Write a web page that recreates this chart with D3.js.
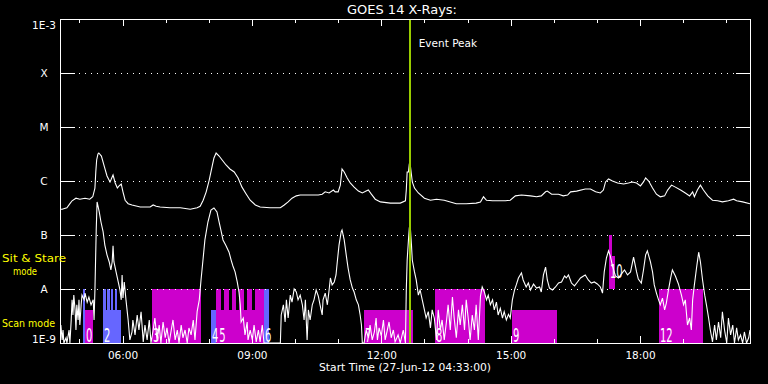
<!DOCTYPE html>
<html><head><meta charset="utf-8">
<script src="https://cdn.jsdelivr.net/npm/d3@7/dist/d3.min.js"></script>
<style>html,body{margin:0;padding:0;background:#000;} svg{display:block;} text{-webkit-font-smoothing:antialiased;}</style>
</head><body>
<svg id="chart" width="768" height="384"></svg>
<script>
// ---------------- data ----------------
const chartTitle = "GOES 14 X-Rays:";
const xTitle = "Start Time (27-Jun-12 04:33:00)";
const eventLabel = "Event Peak";
const timeRange = [4.55, 20.55];           // hours of 27-Jun-12
const fluxRange = [1e-9, 1e-3];            // W m^-2
const levelValues = [1e-3, 1e-4, 1e-5, 1e-6, 1e-7, 1e-8, 1e-9];
const levelLabels = ["1E-3", "X", "M", "C", "B", "A", "1E-9"];
const gridLevels = [1e-4, 1e-5, 1e-6, 1e-7, 1e-8];
const majorHours = [6, 9, 12, 15, 18];
const minorHours = [5, 7, 8, 10, 11, 13, 14, 16, 17, 19, 20];
const eventPeak = 12.66;
const modeLabels = ["Sit & Stare", "mode", "Scan mode"];

// 1-8 A channel  [hour, flux]
const longChannel = [
 [4.55,3.0e-7],[4.60,3.0e-7],[4.71,3.2e-7],[4.78,3.8e-7],[4.83,4.3e-7],[4.92,4.8e-7],[5.01,4.6e-7],
 [5.13,4.8e-7],[5.24,4.6e-7],[5.31,5.1e-7],[5.36,7.4e-7],[5.38,1.47e-6],[5.40,2.45e-6],[5.43,3.16e-6],
 [5.45,3.3e-6],[5.51,2.9e-6],[5.58,1.82e-6],[5.64,1.24e-6],[5.71,9.6e-7],[5.73,1.04e-6],[5.78,1.29e-6],
 [5.83,9.2e-7],[5.88,7.4e-7],[5.92,8.1e-7],[5.97,8.8e-7],[6.01,6.3e-7],[6.06,4.4e-7],[6.13,3.8e-7],
 [6.22,3.6e-7],[6.41,3.3e-7],[6.64,3.3e-7],[6.71,3.6e-7],[6.78,3.4e-7],[6.87,3.3e-7],[7.10,3.2e-7],
 [7.34,3.2e-7],[7.57,3.0e-7],[7.73,3.2e-7],[7.80,3.4e-7],[7.87,4.4e-7],[7.94,6.3e-7],[8.01,1.04e-6],
 [8.08,1.9e-6],[8.12,2.67e-6],[8.17,3.3e-6],[8.24,2.9e-6],[8.31,2.45e-6],[8.40,1.98e-6],[8.49,1.67e-6],
 [8.59,1.47e-6],[8.68,1.14e-6],[8.77,7.7e-7],[8.87,5.7e-7],[8.96,4.4e-7],[9.08,3.6e-7],[9.19,3.3e-7],
 [9.42,3.2e-7],[9.66,3.2e-7],[9.75,3.6e-7],[9.84,4.1e-7],[9.93,4.8e-7],[10.03,5.3e-7],[10.12,5.5e-7],
 [10.35,5.5e-7],[10.54,5.5e-7],[10.63,5.7e-7],[10.70,6.3e-7],[10.79,6.0e-7],[10.89,6.8e-7],[10.93,6.3e-7],
 [11.00,6.3e-7],[11.05,8.4e-7],[11.09,1.67e-6],[11.14,1.47e-6],[11.21,1.14e-6],[11.28,9.2e-7],[11.37,7.7e-7],
 [11.47,6.5e-7],[11.56,6.0e-7],[11.65,6.5e-7],[11.70,6.8e-7],[11.77,5.7e-7],[11.86,4.6e-7],[11.98,4.1e-7],
 [12.21,3.9e-7],[12.44,3.9e-7],[12.56,4.3e-7],[12.58,6.8e-7],[12.60,1.47e-6],[12.63,1.47e-6],[12.65,2.06e-6],
 [12.67,2.06e-6],[12.70,1.29e-6],[12.72,9.6e-7],[12.77,7.4e-7],[12.86,6.0e-7],[13.00,4.8e-7],[13.14,4.4e-7],
 [13.28,4.6e-7],[13.46,4.4e-7],[13.60,4.1e-7],[13.74,3.8e-7],[13.97,3.8e-7],[14.20,3.9e-7],[14.30,4.1e-7],
 [14.37,5.1e-7],[14.44,4.4e-7],[14.58,4.3e-7],[14.88,4.3e-7],[14.99,4.4e-7],[15.11,5.3e-7],[15.25,5.5e-7],
 [15.46,5.3e-7],[15.60,5.1e-7],[15.71,5.3e-7],[15.81,6.3e-7],[15.85,6.5e-7],[15.95,5.7e-7],[16.11,5.7e-7],
 [16.22,5.3e-7],[16.32,5.5e-7],[16.39,6.3e-7],[16.53,6.5e-7],[16.73,7.1e-7],[16.85,7.1e-7],[16.97,6.3e-7],
 [17.08,6.0e-7],[17.15,6.8e-7],[17.20,9.6e-7],[17.27,1.09e-6],[17.36,1.0e-6],[17.48,9.2e-7],[17.62,8.8e-7],
 [17.73,9.2e-7],[17.82,9.6e-7],[17.92,9.2e-7],[18.01,8.1e-7],[18.08,9.6e-7],[18.13,1.14e-6],[18.20,1.0e-6],
 [18.29,7.4e-7],[18.38,5.7e-7],[18.47,5.1e-7],[18.57,5.3e-7],[18.64,6.8e-7],[18.73,8.4e-7],[18.82,7.7e-7],
 [18.94,6.8e-7],[19.05,6.0e-7],[19.15,5.3e-7],[19.22,6.3e-7],[19.26,5.1e-7],[19.33,6.8e-7],[19.40,8.4e-7],
 [19.47,6.8e-7],[19.57,5.3e-7],[19.68,4.4e-7],[19.80,4.3e-7],[19.91,4.1e-7],[20.05,4.3e-7],[20.17,4.6e-7],
 [20.24,4.3e-7],[20.38,4.1e-7],[20.55,3.8e-7]
];

// 0.5-4 A channel  [hour, flux]
const shortChannel = [
 [4.55,1.41e-9],[4.57,2.15e-9],[4.60,1.14e-9],[4.62,1.74e-9],[4.64,1.0e-9],[4.69,1.25e-9],[4.71,1.0e-9],
 [4.76,1.74e-9],[4.78,1.0e-9],[4.81,2.67e-9],[4.83,6.3e-9],[4.85,3.3e-9],[4.87,7.7e-9],[4.90,4.1e-9],
 [4.92,1.74e-9],[4.94,5.1e-9],[4.97,2.67e-9],[4.99,6.3e-9],[5.01,2.15e-9],[5.04,5.1e-9],[5.06,7.7e-9],
 [5.11,6.3e-9],[5.13,8.4e-9],[5.18,5.7e-9],[5.22,7.1e-9],[5.27,5.1e-9],[5.32,6.3e-9],[5.34,2.67e-9],
 [5.36,9.6e-9],[5.39,1.24e-7],[5.41,4.1e-7],[5.46,2.67e-7],[5.50,1.74e-7],[5.55,1.14e-7],[5.59,6.5e-8],
 [5.64,4.3e-8],[5.69,3.2e-8],[5.73,2.25e-8],[5.76,3.2e-8],[5.78,6.3e-8],[5.80,3.2e-8],[5.85,2.07e-8],
 [5.90,1.35e-8],[5.94,9.6e-9],[5.97,6.3e-9],[5.99,1.82e-8],[6.01,6.8e-9],[6.04,1.35e-8],[6.08,6.3e-9],
 [6.13,2.67e-9],[6.17,1.14e-9],[6.22,1.6e-9],[6.24,2.67e-9],[6.29,1.41e-9],[6.34,3.3e-9],[6.38,1.74e-9],
 [6.43,3.8e-9],[6.48,1.05e-9],[6.52,2.15e-9],[6.57,1.14e-9],[6.62,2.67e-9],[6.66,1.0e-9],[6.71,1.74e-9],
 [6.75,2.9e-9],[6.80,1.14e-9],[6.85,2.15e-9],[6.89,1.0e-9],[6.94,2.45e-9],[6.99,1.25e-9],[7.03,1.9e-9],
 [7.08,1.0e-9],[7.13,1.74e-9],[7.17,2.67e-9],[7.22,1.14e-9],[7.27,1.74e-9],[7.31,1.0e-9],[7.36,2.15e-9],
 [7.40,1.25e-9],[7.45,1.74e-9],[7.50,1.0e-9],[7.54,1.9e-9],[7.59,1.41e-9],[7.64,2.67e-9],[7.68,1.14e-9],
 [7.73,3.8e-9],[7.78,6.3e-9],[7.82,1.47e-8],[7.87,3.75e-8],[7.91,8.1e-8],[7.98,1.74e-7],[8.05,2.9e-7],
 [8.12,3.16e-7],[8.19,2.67e-7],[8.24,1.74e-7],[8.29,1.14e-7],[8.33,8.1e-8],[8.40,6.3e-8],[8.47,4.8e-8],
 [8.52,3.4e-8],[8.56,2.67e-8],[8.61,2.07e-8],[8.66,1.35e-8],[8.70,8.8e-9],[8.73,5.1e-9],[8.75,2.45e-9],
 [8.80,2.9e-9],[8.84,1.41e-9],[8.89,2.45e-9],[8.91,1.14e-9],[8.96,1.74e-9],[9.01,1.14e-9],[9.05,2.15e-9],
 [9.10,1.05e-9],[9.15,1.74e-9],[9.19,1.05e-9],[9.24,2.15e-9],[9.28,1.0e-9],[9.66,1.0e-9],[9.68,3.3e-9],
 [9.73,5.1e-9],[9.77,2.45e-9],[9.80,6.3e-9],[9.84,2.9e-9],[9.89,7.7e-9],[9.93,5.7e-9],[9.98,1.0e-8],
 [10.03,8.8e-9],[10.07,6.3e-9],[10.12,7.7e-9],[10.17,5.1e-9],[10.21,2.67e-9],[10.24,6.3e-9],[10.28,1.14e-9],
 [10.31,4.1e-9],[10.35,2.67e-9],[10.40,5.1e-9],[10.44,6.3e-9],[10.49,9.6e-9],[10.54,7.4e-9],[10.58,5.1e-9],
 [10.63,3.3e-9],[10.65,6.3e-9],[10.70,8.4e-9],[10.75,5.1e-9],[10.79,9.6e-9],[10.82,1.6e-8],[10.86,1.19e-8],
 [10.91,1.35e-8],[10.95,1.82e-8],[10.98,3.2e-8],[11.02,6.5e-8],[11.07,1.14e-7],[11.09,1.24e-7],[11.14,8.1e-8],
 [11.19,4.1e-8],[11.23,2.45e-8],[11.28,1.47e-8],[11.33,1.04e-8],[11.37,8.8e-9],[11.42,6.3e-9],[11.47,5.1e-9],
 [11.51,3.3e-9],[11.54,2.15e-9],[11.56,1.0e-9],[11.60,1.0e-9],[11.65,1.74e-9],[11.70,1.25e-9],[11.74,2.15e-9],
 [11.79,1.14e-9],[11.84,1.6e-9],[11.88,2.9e-9],[11.91,1.14e-9],[11.95,1.9e-9],[12.00,1.35e-9],[12.05,2.67e-9],
 [12.09,1.14e-9],[12.14,1.74e-9],[12.18,2.45e-9],[12.23,1.25e-9],[12.28,1.74e-9],[12.32,1.05e-9],[12.39,1.41e-9],
 [12.44,1.0e-9],[12.51,1.74e-9],[12.56,1.0e-9],[12.58,9.6e-9],[12.60,3.4e-8],[12.63,8.1e-8],[12.65,1.35e-7],
 [12.67,1.53e-7],[12.70,6.5e-8],[12.72,3.4e-8],[12.74,2.78e-8],[12.77,2.07e-8],[12.81,1.47e-8],[12.86,7.7e-9],
 [12.90,9.6e-9],[12.95,6.3e-9],[13.00,4.1e-9],[13.04,2.9e-9],[13.09,3.8e-9],[13.14,1.9e-9],[13.18,4.1e-9],
 [13.23,2.9e-9],[13.28,1.14e-9],[13.32,4.1e-9],[13.37,1.74e-9],[13.41,2.67e-9],[13.46,1.14e-9],[13.51,2.45e-9],
 [13.55,5.1e-9],[13.60,1.74e-9],[13.65,7.1e-9],[13.69,2.9e-9],[13.74,1.25e-9],[13.79,4.1e-9],[13.83,2.15e-9],
 [13.88,5.1e-9],[13.93,1.74e-9],[13.97,6.3e-9],[14.02,2.67e-9],[14.06,1.14e-9],[14.11,3.3e-9],[14.16,1.74e-9],
 [14.20,5.1e-9],[14.25,1.14e-9],[14.30,7.4e-9],[14.34,1.09e-8],[14.39,8.8e-9],[14.44,6.3e-9],[14.48,7.7e-9],
 [14.53,5.1e-9],[14.58,6.3e-9],[14.62,4.1e-9],[14.67,5.7e-9],[14.71,3.3e-9],[14.76,4.4e-9],[14.81,2.9e-9],
 [14.85,3.8e-9],[14.90,2.67e-9],[14.95,3.4e-9],[14.99,2.9e-9],[15.04,6.3e-9],[15.09,9.6e-9],[15.13,1.19e-8],
 [15.18,1.6e-8],[15.25,1.98e-8],[15.29,1.47e-8],[15.36,1.09e-8],[15.41,1.29e-8],[15.46,9.6e-9],[15.53,1.24e-8],
 [15.60,1.04e-8],[15.67,1.09e-8],[15.71,8.8e-9],[15.76,1.82e-8],[15.81,2.55e-8],[15.85,1.47e-8],[15.90,1.04e-8],
 [15.97,9.6e-9],[16.04,1.09e-8],[16.11,1.29e-8],[16.18,1.35e-8],[16.25,1.74e-8],[16.29,1.6e-8],[16.34,1.82e-8],
 [16.41,1.29e-8],[16.48,1.14e-8],[16.55,1.35e-8],[16.62,1.6e-8],[16.69,1.74e-8],[16.73,1.82e-8],[16.80,1.47e-8],
 [16.87,1.29e-8],[16.94,1.35e-8],[17.01,1.24e-8],[17.08,1.09e-8],[17.13,8.4e-9],[17.17,2.07e-8],[17.22,3.75e-8],
 [17.27,5.1e-8],[17.31,4.1e-8],[17.36,2.67e-8],[17.43,1.74e-8],[17.50,1.6e-8],[17.57,1.9e-8],[17.64,2.25e-8],
 [17.71,1.82e-8],[17.78,2.07e-8],[17.85,3.9e-8],[17.92,2.07e-8],[17.96,1.53e-8],[18.03,1.29e-8],[18.08,2.25e-8],
 [18.13,4.3e-8],[18.17,5.1e-8],[18.24,3.2e-8],[18.29,2.07e-8],[18.33,1.19e-8],[18.38,8.4e-9],[18.43,6.3e-9],
 [18.47,5.1e-9],[18.52,6.8e-9],[18.57,4.1e-9],[18.61,5.5e-9],[18.66,9.6e-9],[18.71,1.6e-8],[18.75,2.25e-8],
 [18.82,1.74e-8],[18.89,1.24e-8],[18.96,7.7e-9],[19.01,5.1e-9],[19.05,6.3e-9],[19.10,2.15e-9],[19.15,2.9e-9],
 [19.19,1.74e-9],[19.22,6.3e-9],[19.26,1.19e-8],[19.31,2.45e-8],[19.36,4.8e-8],[19.40,3.2e-8],[19.45,1.47e-8],
 [19.50,7.7e-9],[19.54,5.1e-9],[19.59,2.9e-9],[19.63,1.74e-9],[19.68,1.05e-9],[19.73,2.15e-9],[19.77,1.14e-9],
 [19.82,2.45e-9],[19.87,1.25e-9],[19.91,3.8e-9],[19.96,1.74e-9],[20.01,1.0e-9],[20.05,2.9e-9],[20.10,1.41e-9],
 [20.15,2.15e-9],[20.19,1.0e-9],[20.24,1.9e-9],[20.28,1.14e-9],[20.33,1.41e-9],[20.38,1.0e-9],[20.42,1.6e-9],
 [20.47,1.0e-9],[20.52,1.25e-9],[20.55,1.74e-9]
];

// observation intervals: [startHour, endHour, lowFlux, highFlux, kind, label]
const obsBars = [
 [5.08, 5.14, 1e-9, 1e-8, "b", ""],
 [5.14, 5.32, 1e-9, 4e-9, "m", "0"],
 [5.55, 5.97, 1e-9, 4e-9, "b", "2"],
 [5.55, 5.61, 4e-9, 1e-8, "b", ""],
 [5.64, 5.70, 4e-9, 1e-8, "b", ""],
 [5.73, 5.79, 4e-9, 1e-8, "b", ""],
 [5.83, 5.88, 4e-9, 1e-8, "b", ""],
 [6.68, 7.82, 1e-9, 1e-8, "m", "3"],
 [8.05, 8.17, 1e-9, 4e-9, "b", "4"],
 [8.17, 9.27, 1e-9, 4e-9, "m", "5"],
 [8.17, 8.29, 4e-9, 1e-8, "m", ""],
 [8.36, 8.46, 4e-9, 1e-8, "m", ""],
 [8.53, 8.64, 4e-9, 1e-8, "m", ""],
 [8.70, 8.81, 4e-9, 1e-8, "m", ""],
 [8.89, 9.00, 4e-9, 1e-8, "m", ""],
 [9.08, 9.27, 4e-9, 1e-8, "m", ""],
 [9.27, 9.40, 1e-9, 1e-8, "b", "6"],
 [11.61, 12.74, 1e-9, 4e-9, "m", "7"],
 [13.25, 14.41, 1e-9, 1e-8, "m", "8"],
 [15.03, 16.08, 1e-9, 4e-9, "m", "9"],
 [17.27, 17.34, 1e-8, 1e-7, "m", "10"],
 [17.34, 17.41, 1e-8, 4e-8, "m", ""],
 [18.43, 19.47, 1e-9, 1e-8, "m", "12"]
];

// ---------------- drawing ----------------
const W = 768, H = 384;
const X0 = 60, X1 = 750, Y0 = 19, Y1 = 343;
const colors = { m: "#cc00cc", b: "#6666ff" };
const svg = d3.select("#chart");
svg.append("rect").attr("width", W).attr("height", H).attr("fill", "#000");

const x = d3.scaleLinear().domain(timeRange).range([X0, X1]);
const y = d3.scaleLog().domain(fluxRange).range([Y1, Y0]);
const FONT = "DejaVu Sans, sans-serif";
const hhmm = h => d3.format("02d")(Math.floor(h)) + ":" + d3.format("02d")(Math.round((h % 1) * 60));

// bars
const barG = svg.append("g").attr("shape-rendering", "crispEdges");
barG.selectAll("rect").data(obsBars).join("rect")
  .attr("x", d => Math.round(x(d[0])))
  .attr("width", d => Math.max(1, Math.round(x(d[1])) - Math.round(x(d[0]))))
  .attr("y", d => Math.round(y(d[3])))
  .attr("height", d => Math.round(y(d[2])) - Math.round(y(d[3])))
  .attr("fill", d => colors[d[4]]);

// bar labels (shifted right only if they would collide with the previous one)
const labG = svg.append("g");
let lastEnd = -1;
obsBars.filter(d => d[5] !== "").forEach(d => {
  let lx = Math.max(Math.round(x(d[0])) + 1, lastEnd + 1);
  const ly = y(d[2]) - (d[2] > 1e-9 ? 11 : 1);
  const g = labG.append("g").attr("transform", `translate(${lx},${ly})`);
  const t = g.append("text")
    .attr("transform", "scale(0.5,1)")
    .attr("font-family", FONT).attr("font-weight", 400).attr("font-size", 20)
    .attr("fill", "#fff").text(d[5]);
  lastEnd = lx + t.node().getComputedTextLength() * 0.5;
});

// grid (dotted) lines
svg.append("g").selectAll("line").data(gridLevels).join("line")
  .attr("x1", X0 + 19).attr("x2", X1 - 16)
  .attr("y1", d => Math.round(y(d)) + 0.5).attr("y2", d => Math.round(y(d)) + 0.5)
  .attr("stroke", "#fff").attr("stroke-width", 1).attr("stroke-dasharray", "1,5")
  .attr("shape-rendering", "crispEdges");

// curves
const line = d3.line().x(d => x(d[0])).y(d => y(d[1]));
svg.append("defs").append("clipPath").attr("id", "plotclip")
  .append("rect").attr("x", X0).attr("y", Y0).attr("width", X1 - X0).attr("height", Y1 - Y0 + 1);
const curveG = svg.append("g").attr("clip-path", "url(#plotclip)");
[longChannel, shortChannel].forEach(s => {
  curveG.append("path").datum(s).attr("d", line)
    .attr("fill", "none").attr("stroke", "#fff").attr("stroke-width", 1.1)
    .attr("stroke-linejoin", "miter");
});

// event peak line
svg.append("line")
  .attr("x1", x(eventPeak)).attr("x2", x(eventPeak))
  .attr("y1", Y0).attr("y2", Y1)
  .attr("stroke", "#99cc00").attr("stroke-width", 2)
  .attr("shape-rendering", "crispEdges");
svg.append("text").attr("x", x(eventPeak) + 9).attr("y", 47)
  .attr("font-family", FONT).attr("font-size", 10.5).attr("fill", "#fff")
  .text(eventLabel);

// axes
function styleAxis(g) {
  g.attr("color", "#fff").attr("font-family", FONT).attr("font-size", 10)
   .attr("shape-rendering", "crispEdges");
  g.selectAll("text").attr("fill", "#ffffff");
}
// left
const gL = svg.append("g").attr("transform", `translate(${X0},0)`)
  .call(d3.axisLeft(y).tickValues(levelValues).tickFormat((d, i) => levelLabels[i])
        .tickSizeInner(-15).tickSizeOuter(0).tickPadding(0));
styleAxis(gL);
gL.selectAll(".tick text").attr("x", 44 - X0).attr("text-anchor", "middle")
  .attr("font-size", 10.5)
  .attr("dy", (d, i) => i === 0 ? "0.95em" : (i === levelValues.length - 1 ? "-0.05em" : "0.36em"));
// right
const gR = svg.append("g").attr("transform", `translate(${X1},0)`)
  .call(d3.axisRight(y).tickValues(levelValues).tickFormat("").tickSizeInner(-14).tickSizeOuter(0));
styleAxis(gR);
// top
const gT1 = svg.append("g").attr("transform", `translate(0,${Y0})`)
  .call(d3.axisTop(x).tickValues(minorHours).tickFormat("").tickSizeInner(-4).tickSizeOuter(0));
styleAxis(gT1);
const gT2 = svg.append("g").attr("transform", `translate(0,${Y0})`)
  .call(d3.axisTop(x).tickValues(majorHours).tickFormat("").tickSizeInner(-7).tickSizeOuter(0));
styleAxis(gT2);
// bottom
const gB1 = svg.append("g").attr("transform", `translate(0,${Y1})`)
  .call(d3.axisBottom(x).tickValues(minorHours).tickFormat("").tickSizeInner(-4).tickSizeOuter(0));
styleAxis(gB1);
const gB2 = svg.append("g").attr("transform", `translate(0,${Y1})`)
  .call(d3.axisBottom(x).tickValues(majorHours).tickFormat(hhmm).tickSizeInner(-7).tickSizeOuter(0).tickPadding(9));
styleAxis(gB2);
gB2.selectAll(".tick text").attr("font-size", 10.5);

// titles
svg.append("text").attr("x", 402).attr("y", 14).attr("text-anchor", "middle")
  .attr("font-family", FONT).attr("font-size", 12).attr("fill", "#fff")
  .attr("textLength", 110).attr("lengthAdjust", "spacingAndGlyphs")
  .text(chartTitle);
svg.append("text").attr("x", 405).attr("y", 371).attr("text-anchor", "middle")
  .attr("font-family", FONT).attr("font-size", 10.5).attr("fill", "#fff")
  .attr("textLength", 172).attr("lengthAdjust", "spacingAndGlyphs")
  .text(xTitle);

// mode labels
const yellow = "#ffff00";
svg.append("text").attr("x", 2).attr("y", 262).attr("font-family", FONT).attr("font-size", 10.5)
  .attr("fill", yellow).attr("textLength", 64).attr("lengthAdjust", "spacingAndGlyphs").text(modeLabels[0]);
svg.append("text").attr("x", 13).attr("y", 275).attr("font-family", FONT).attr("font-size", 10.5)
  .attr("fill", yellow).attr("textLength", 24).attr("lengthAdjust", "spacingAndGlyphs").text(modeLabels[1]);
svg.append("text").attr("x", 2).attr("y", 327).attr("font-family", FONT).attr("font-size", 10.5)
  .attr("fill", yellow).attr("textLength", 53).attr("lengthAdjust", "spacingAndGlyphs").text(modeLabels[2]);
</script>
</body></html>
